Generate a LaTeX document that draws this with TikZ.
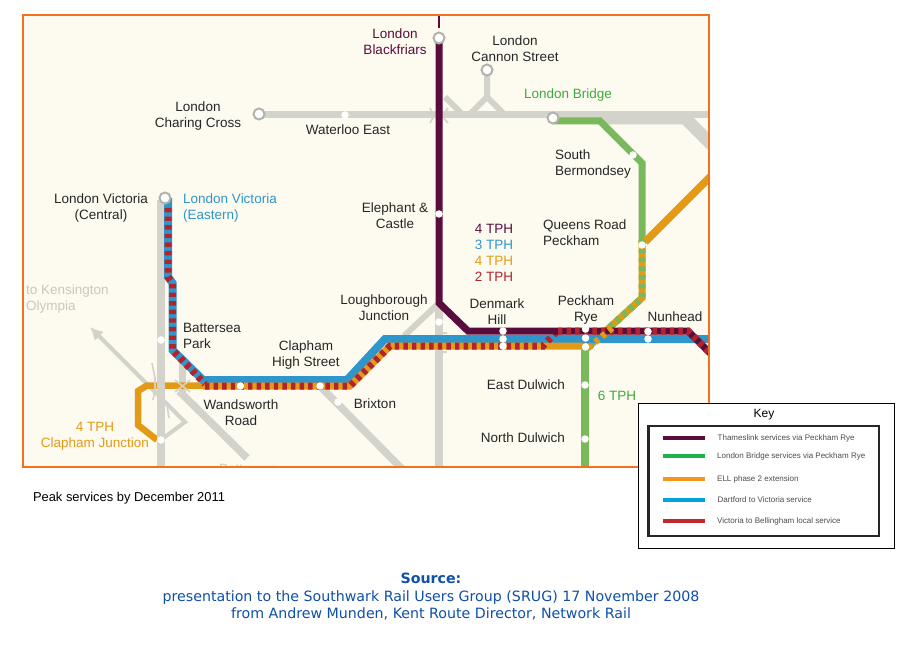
\documentclass[tikz,border=0pt]{standalone}
\usepackage{fontspec}
\setmainfont{Liberation Sans}
\newfontfamily\srcfont{DejaVu Sans}
\usepackage{xcolor}
\usetikzlibrary{arrows, arrows.meta}
\usetikzlibrary{positioning}
\definecolor{panelbg}{HTML}{FDFBF0}
\definecolor{frameorange}{HTML}{F4701A}
\definecolor{railgray}{HTML}{D3D3CB}
\definecolor{labelgray}{HTML}{C8C8C2}
\definecolor{lnpurple}{HTML}{5A0C3C}
\definecolor{lnblue}{HTML}{2F96CB}
\definecolor{lnred}{HTML}{B3232E}
\definecolor{lnorange}{HTML}{E39A17}
\definecolor{lngreen}{HTML}{7AB95B}
\definecolor{txtgreen}{HTML}{3DAA3D}
\definecolor{srcblue}{HTML}{0F50A8}
\definecolor{keygreen}{HTML}{1DB14B}
\definecolor{keyorange}{HTML}{F7941D}
\definecolor{keyblue}{HTML}{00A2DB}
\definecolor{keyred}{HTML}{C1272D}
\tikzset{
	rail/.style={railgray, line width=7.5pt},
	thinrail/.style={railgray, line width=4pt},
	tick/.style={railgray, line width=1.6pt},
	stop/.style={circle, fill=white, inner sep=0pt, minimum size=7.5pt},
	terminus/.style={circle, fill=white, draw=railgray!85!black, line width=2pt, inner sep=0pt, minimum size=11pt},
	lbl/.style={font=\fontsize{13.5}{16}\selectfont, align=center, text=black!85, inner sep=0pt},
	lbll/.style={lbl, align=left},
	reddash/.style={lnred, line width=7pt, dash pattern=on 4.4pt off 4.2pt},
	greendash/.style={lngreen, line width=7pt, dash pattern=on 4.4pt off 4.4pt},
	keyline/.style={line width=4.5pt},
	keytxt/.style={font=\fontsize{8}{10}\selectfont, text=black!70, inner sep=0pt, anchor=west}
}
\begin{document}
\begin{tikzpicture}[x=1pt, y=-1pt]
	\useasboundingbox (0,0) rectangle (922,658);
	\fill[white] (0,0) rectangle (922,658);
	\fill[panelbg] (23,15) rectangle (709,467);

	\begin{scope}
		\clip (23,15) rectangle (709,467);
		%grey network
		\draw[rail] (259,114.5) -- (709,114.5);
		\draw[railgray, line width=12.7pt] (602,118) -- (685,118) -- (720,153);
		\draw[rail, line width=6pt] (487,70) -- (487,97) -- (469,115);
		\draw[rail, line width=6pt] (487,97) -- (505,115);
		\draw[rail, line width=6pt] (445,97) -- (463,115);
		\draw[rail] (439,302) -- (439,470);
		\draw[rail, line width=6pt] (437,305) -- (404,336);
		\draw[rail] (320,386) -- (403,470);
		\draw[rail] (182.5,360) -- (182.5,392);
		\draw[rail] (179,391) -- (247,458);
		\node[font=\fontsize{13.5}{16}\selectfont, text=labelgray, inner sep=0pt] (battersealbl) at (248,469) {Battersea};

		%arrow to Kensington and the loop
		\coordinate (kenend) at (90,327);
		\coordinate (kenbend) at (185,422);
		\coordinate (kenjoin) at (158,442);
		\draw[thinrail, -{Latex[length=13pt,width=13pt]}] (kenjoin) -- (kenbend) -- (kenend);

		%orange under the grey
		\draw[lnorange, line width=6.5pt, line join=miter] (157,440) -- (138,425) -- (138,391) -- (147,385.5) -- (210,385.5);
		\draw[rail] (161,200) -- (161,470);

		%tunnel ticks
		\draw[tick] (152,363) -- (155,378) -- (155,390) -- (153,400);
		\draw[tick] (167,405) -- (169,418);
		\draw[tick] (175,380) -- (190,392);
		\draw[tick] (175,392) -- (190,380);
		\draw[tick] (430,108) -- (434,116) -- (430,123);
		\draw[tick] (448,108) -- (442,116) -- (448,123);
		\draw[tick] (435,333) -- (447,333);
		\draw[tick] (435,352) -- (447,352);

		%green line
		\draw[lngreen, line width=7pt] (553,121) -- (600,121) -- (642,163) -- (642,245);
		\draw[lngreen, line width=7.5pt] (585,347) -- (585,470);

		%ELL extension
		\draw[lnorange, line width=7.5pt] (645,242) -- (712,175);
		\draw[lnorange, line width=7pt] (642,240) -- (642,298) -- (586,349);
		\draw[greendash] (642,240) -- (642,298) -- (586,349);

		%blue and red
		\draw[lnblue, line width=8pt] (168,198) -- (168,277) -- (172.5,283) -- (172.5,350) -- (203,380) -- (347,380) -- (385,339) -- (709,339);
		\draw[lnorange, line width=7pt] (203,386) -- (350,386) -- (390,346) -- (585,346);
		\draw[reddash] (168,208) -- (168,277) -- (172.5,283) -- (172.5,350) -- (205,384);
		\draw[reddash] (205,386) -- (350,386) -- (390,346) -- (543,346) -- (557,331);

		%thameslink
		\draw[lnpurple, line width=1.8pt] (439,15) -- (439,28);
		\draw[lnpurple, line width=7pt] (439,40) -- (439,303) -- (468,331) -- (688,331) -- (712,355);
		\draw[reddash] (558,331) -- (688,331) -- (712,355);
		\draw[lnorange, line width=6.5pt, dash pattern=on 4.4pt off 4.4pt] (612,328) -- (587,349);
	\end{scope}

	%terminal stations
	\node[terminus] (charingcross) at (259,114) {};
	\node[terminus] (cannonst) at (487,70) {};
	\node[terminus] (blackfriars) at (439,38) {};
	\node[terminus] (londonbridge) at (553,118) {};
	\node[terminus] (victoria) at (165,198) {};

	%white stops
	\node[stop] (waterlooeast) at (345,115) {};
	\node[stop] (elephant) at (439,214) {};
	\node[stop] (southberm) at (633,155) {};
	\node[stop] (queensrd) at (642,245) {};
	\node[stop] (denmarka) at (503,331) {};
	\node[stop] (denmarkb) at (503,339) {};
	\node[stop] (denmarkc) at (503,346) {};
	\node[stop] (peckhama) at (585.5,329) {};
	\node[stop] (peckhamb) at (585.5,338) {};
	\node[stop] (peckhamc) at (585.5,347) {};
	\node[stop] (nunheada) at (648,331.5) {};
	\node[stop] (nunheadb) at (648,339) {};
	\node[stop] (eastdulwich) at (585,385) {};
	\node[stop] (northdulwich) at (585,439) {};
	\node[stop] (wandsworth) at (240.5,386) {};
	\node[stop] (claphamhs) at (320,386) {};
	\node[stop] (brixtonstop) at (338,402) {};
	\node[stop] (loughborough) at (439,322) {};
	\node[stop] (batterseapk) at (161,340) {};
	\node[stop] (claphamjn) at (161,440) {};

	%panel frame
	\draw[frameorange, line width=2pt] (23,15) rectangle (709,467);

	%labels
	\node[lbl, text=lnpurple] (lblblackfriars) at (395,42) {London\\Blackfriars};
	\node[lbl] (lblcannon) at (515,49) {London\\Cannon Street};
	\node[lbl, text=txtgreen] (lblbridge) at (568,95.5) {London Bridge};
	\node[lbl] (lblcharing) at (198,116) {London\\Charing Cross};
	\node[lbl] (lblwaterloo) at (348,130) {Waterloo East};
	\node[lbll, anchor=west] (lblbermondsey) at (555,164.5) {South\\Bermondsey};
	\node[lbl] (lblcentral) at (101,208) {London Victoria\\(Central)};
	\node[lbll, anchor=west, text=lnblue] (lbleastern) at (183,208) {London Victoria\\(Eastern)};
	\node[lbl] (lblelephant) at (395,216) {Elephant \&\\Castle};
	\node[lbl, text=lnpurple] (tphpurple) at (494,229) {4 TPH};
	\node[lbl, text=lnblue] (tphblue) at (494,245) {3 TPH};
	\node[lbl, text=lnorange] (tphorange) at (494,261) {4 TPH};
	\node[lbl, text=lnred] (tphred) at (494,277) {2 TPH};
	\node[lbll, anchor=west] (lblqueens) at (543,232.5) {Queens Road\\Peckham};
	\node[lbll, anchor=west, text=labelgray] (lblkensington) at (26,299) {to Kensington\\Olympia};
	\node[lbl] (lblloughborough) at (384,308) {Loughborough\\Junction};
	\node[lbll, anchor=west] (lblbattersea) at (183,336) {Battersea\\Park};
	\node[lbl] (lblclaphamhs) at (306,355) {Clapham\\High Street};
	\node[lbl] (lbldenmark) at (497,312) {Denmark\\Hill};
	\node[lbl] (lblpeckham) at (586,310) {Peckham\\Rye};
	\node[lbl] (lblnunhead) at (675,317) {Nunhead};
	\node[lbl] (lblwandsworth) at (241,412.5) {Wandsworth\\Road};
	\node[lbl] (lblbrixton) at (375,404) {Brixton};
	\node[lbl, text=lnorange] (lblclaphamjn) at (95,436) {4 TPH\\Clapham Junction};
	\node[lbl] (lbleastdulwich) at (526,385) {East Dulwich};
	\node[lbl] (lblnorthdulwich) at (523,438) {North Dulwich};
	\node[lbl, text=txtgreen] (tphgreen) at (617,396) {6 TPH};

	%key
	\draw[black, fill=white, line width=1.3pt] (638.5,403.5) rectangle (894.5,548.5);
	\node[font=\fontsize{12}{14}\selectfont, inner sep=0pt] (keytitle) at (764,415) {Key};
	\draw[black!85, line width=2.4pt] (648.5,426) rectangle (879,536);
	\coordinate (keya) at (663,438);
	\coordinate (keyb) at (663,456);
	\coordinate (keyc) at (663,479);
	\coordinate (keyd) at (663,500);
	\coordinate (keye) at (663,521);
	\draw[keyline, lnpurple] (keya) -- ++(42,0);
	\draw[keyline, keygreen] (keyb) -- ++(42,0);
	\draw[keyline, keyorange] (keyc) -- ++(42,0);
	\draw[keyline, keyblue] (keyd) -- ++(42,0);
	\draw[keyline, keyred] (keye) -- ++(42,0);
	\node[keytxt] (keytxta) at (717.5,438) {Thameslink services via Peckham Rye};
	\node[keytxt] (keytxtb) at (717,456) {London Bridge services via Peckham Rye};
	\node[keytxt] (keytxtc) at (717,479) {ELL phase 2 extension};
	\node[keytxt] (keytxtd) at (717.5,500) {Dartford to Victoria service};
	\node[keytxt] (keytxte) at (717,521) {Victoria to Bellingham local service};

	%caption
	\node[font=\fontsize{12.9}{14}\selectfont, inner sep=0pt] (caption) at (129,498) {Peak services by December 2011};
	\node[font=\srcfont\fontsize{14.2}{17.5}\selectfont, text=srcblue, align=center, inner sep=0pt] (source) at (431,597) {\textbf{Source:}\\presentation to the Southwark Rail Users Group (SRUG) 17 November 2008\\from Andrew Munden, Kent Route Director, Network Rail};
\end{tikzpicture}
\end{document}
